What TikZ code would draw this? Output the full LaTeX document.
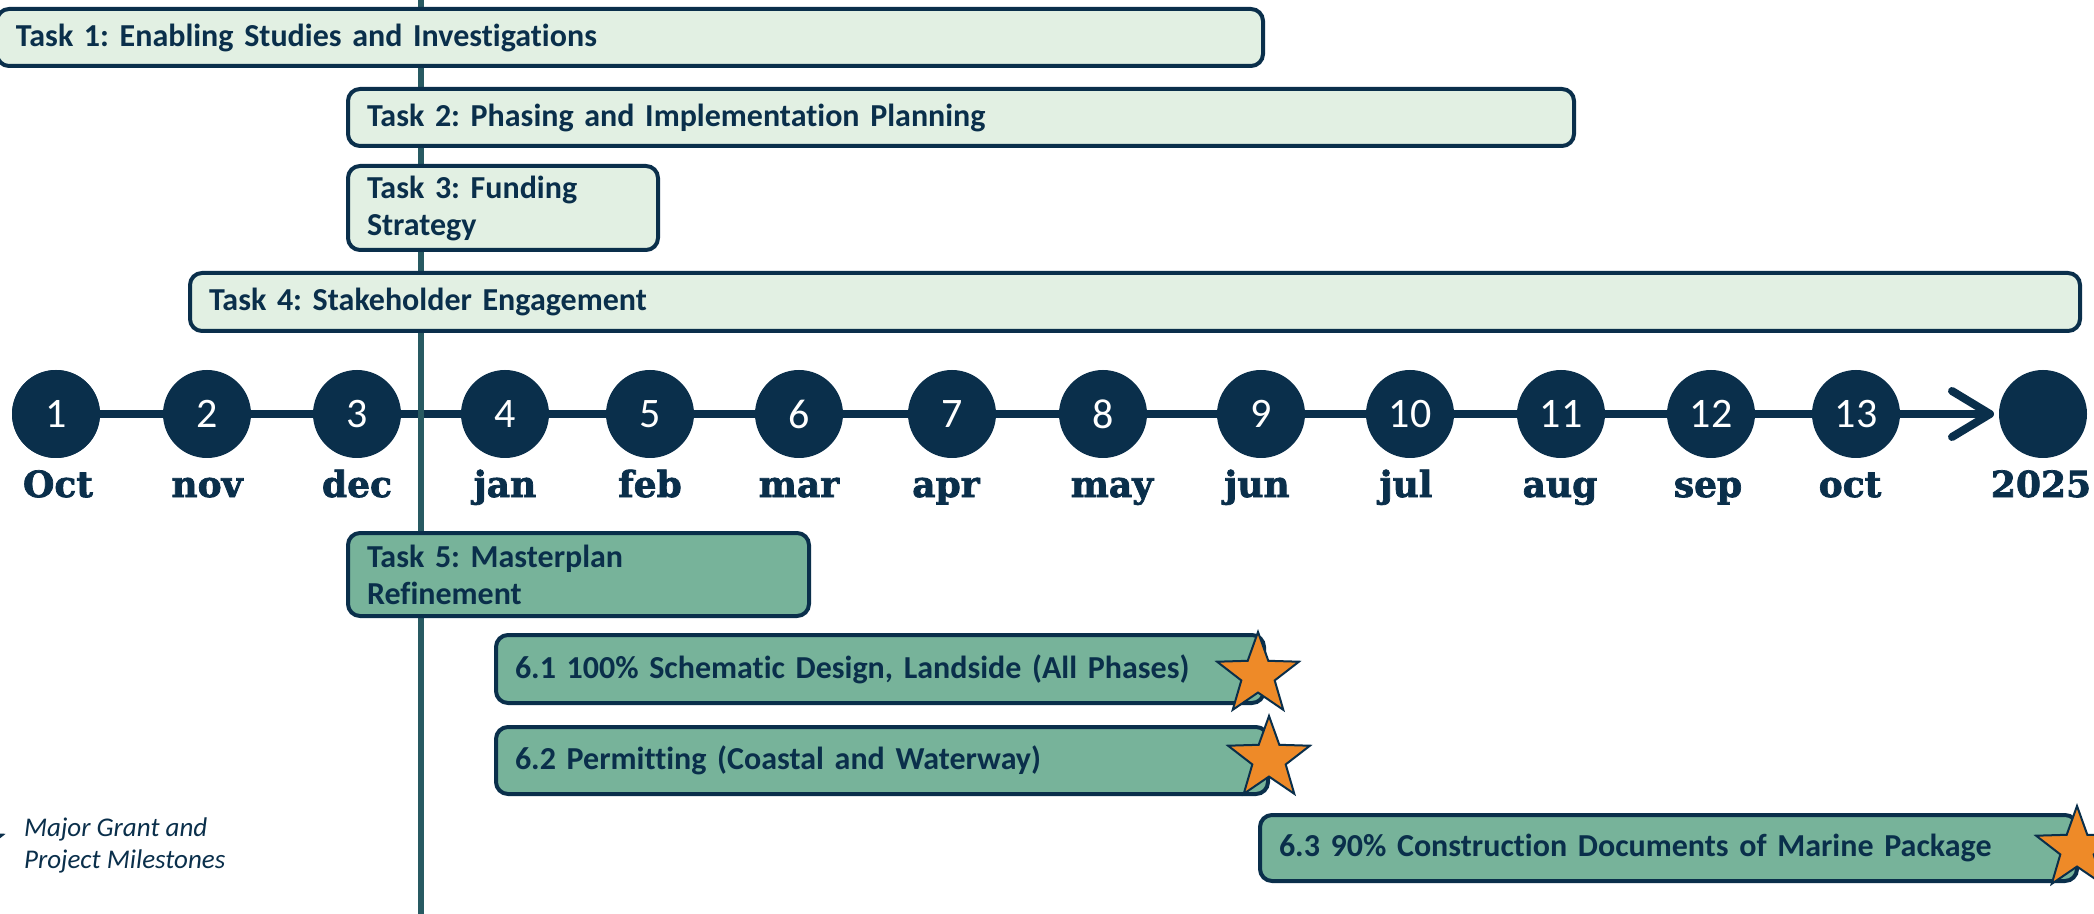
\documentclass[tikz,border=0pt]{standalone}
\usepackage{fontspec}
\setmainfont{Carlito}[Ligatures=NoCommon]
\newfontfamily\monthfont{DejaVu Serif}[BoldFeatures={FakeBold=2}]
\usetikzlibrary{shapes.geometric}
\definecolor{dnavy}{HTML}{0A2F4B}
\definecolor{lightbar}{HTML}{E2F0E3}
\definecolor{midbar}{HTML}{77B39A}
\definecolor{starorange}{HTML}{EE8A28}
\definecolor{vteal}{HTML}{285A62}
\tikzset{
  bar/.style={draw=dnavy, line width=2pt, rounded corners=6pt, anchor=north west,
    inner xsep=9.5pt, inner ysep=0pt, align=left, text=dnavy,
    font=\fontsize{16}{18.5}\selectfont\bfseries\frenchspacing},
  lbar/.style={bar, fill=lightbar},
  mbar/.style={bar, fill=midbar},
  month/.style={circle, fill=dnavy, minimum size=44pt, inner sep=0pt, text=white,
    font=\fontsize{21}{24}\selectfont},
  mlabel/.style={anchor=base, text=dnavy, font=\monthfont\bfseries\fontsize{18}{20}\selectfont},
  mstar/.style={star, star points=5, star point ratio=2.45, minimum size=43pt,
    inner sep=0pt, fill=starorange, draw=dnavy, line width=1pt},
  tline/.style={draw=dnavy, line width=4pt}
}
\begin{document}
\begin{tikzpicture}[x=0.5pt,y=-0.5pt]
\clip (0,0) rectangle (2094,914);
\fill[white] (0,0) rectangle (2094,914);

% timeline axis
\node[month] (c1) at (56,414) {1};
\coordinate (tip) at (1990,414);
\draw[tline] (c1.center) -- (tip);
\draw[tline, line cap=round, line join=round] (tip) ++(-38,-23) -- (tip) -- ++(-38,23);

% vertical marker line
\draw[vteal, line width=3pt] (421,0) -- (421,914);

% circles
\node[month] (c1b) at (56,414) {1};
\node[month] (c2) at (207,414) {2};
\node[month] (c3) at (357,414) {3};
\node[month] (c4) at (505,414) {4};
\node[month] (c5) at (650,414) {5};
\node[month] (c6) at (799,414) {6};
\node[month] (c7) at (952,414) {7};
\node[month] (c8) at (1103,414) {8};
\node[month] (c9) at (1261,414) {9};
\node[month] (c10) at (1410,414) {10};
\node[month] (c11) at (1561,414) {11};
\node[month] (c12) at (1711,414) {12};
\node[month] (c13) at (1856,414) {13};
\node[month] (c14) at (2043,414) {};

% month labels
\node[mlabel] (m1) at (58,497) {Oct};
\node[mlabel] (m2) at (207,497) {nov};
\node[mlabel] (m3) at (357,497) {dec};
\node[mlabel] (m4) at (505,497) {jan};
\node[mlabel] (m5) at (650,497) {feb};
\node[mlabel] (m6) at (799,497) {mar};
\node[mlabel] (m7) at (946,497) {apr};
\node[mlabel] (m8) at (1112,497) {may};
\node[mlabel] (m9) at (1257,497) {jun};
\node[mlabel] (m10) at (1406,497) {jul};
\node[mlabel] (m11) at (1560,497) {aug};
\node[mlabel] (m12) at (1708,497) {sep};
\node[mlabel] (m13) at (1850,497) {oct};
\node[mlabel] (m14) at (2041,497) {2025};

% task bars
\node[lbar, text width=614pt, minimum height=28.5pt] (t1) at (-5,7) {Task 1: Enabling Studies and Investigations};
\node[lbar, text width=594pt, minimum height=28.5pt] (t2) at (346,87) {Task 2: Phasing and Implementation Planning};
\node[lbar, text width=136pt, minimum height=42pt] (t3) at (346,164) {Task 3: Funding\\Strategy};
\node[lbar, text width=926pt, minimum height=29pt] (t4) at (188,271) {Task 4: Stakeholder Engagement};
\node[mbar, text width=211.5pt, minimum height=41.5pt] (t5) at (346,531) {Task 5: Masterplan\\Refinement};
\node[mbar, text width=365pt, minimum height=34pt] (t61) at (494,633) {6.1 100\% Schematic Design, Landside (All Phases)};
\node[mbar, text width=367pt, minimum height=33.5pt] (t62) at (494,725) {6.2 Permitting (Coastal and Waterway)};
\node[mbar, text width=389.5pt, minimum height=33pt] (t63) at (1258,813) {6.3 90\% Construction Documents of Marine Package};

% milestone stars
\node[mstar] (s1) at (1258,675) {};
\node[mstar] (s2) at (1269,759) {};
\node[mstar] (s3) at (2077,849) {};

% legend
\node[mstar] (s0) at (-38,848) {};
\node[anchor=west, align=left, text=dnavy, font=\fontsize{13.5}{16}\selectfont\itshape] (leg) at (17,845) {Major Grant and\\Project Milestones};
\end{tikzpicture}
\end{document}
